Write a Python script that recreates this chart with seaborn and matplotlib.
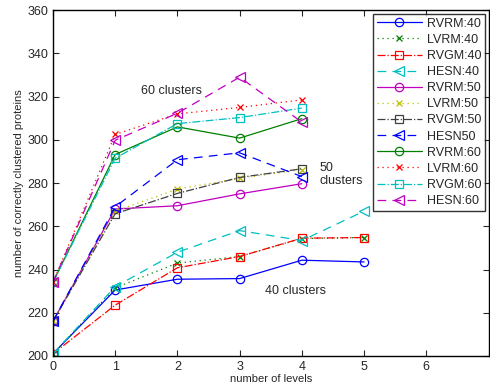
import pandas as pd
import matplotlib
matplotlib.use("Agg")
import matplotlib.pyplot as plt
import seaborn as sns

sns.set_style("ticks")
plt.rcParams['font.family'] = ['Liberation Sans', 'DejaVu Sans']

# Data
levels_40 = [0, 1, 2, 3, 4, 5]
levels_50 = [0, 1, 2, 3, 4]
levels_60 = [0, 1, 2, 3, 4]

rvrm_40 = [201, 230.5, 235.5, 235.8, 244.3, 243.5]
lvrm_40 = [201, 231.5, 243, 246, 254.3, 254.8]
rvgm_40 = [201, 223.5, 240.8, 246, 254.5, 254.8]
hesn_40 = [201, 232, 248, 258, 253.4, 267]

rvrm_50 = [216, 268, 269.5, 275, 279.7]
lvrm_50 = [216, 267, 277.2, 282.2, 286.2]
rvgm_50 = [216, 265.8, 275.2, 282.6, 286.6]
hesn_50 = [216, 269, 290.8, 294, 283]

rvrm_60 = [234, 293.2, 306, 300.8, 309.8]
lvrm_60 = [234, 302.5, 312, 315, 318.5]
rvgm_60 = [234, 291.5, 307.5, 310.3, 314.7]
hesn_60 = [234, 299.8, 312.3, 329, 308.2]

labels = ['RVRM:40', 'LVRM:40', 'RVGM:40', 'HESN:40',
          'RVRM:50', 'LVRM:50', 'RVGM:50', 'HESN50',
          'RVRM:60', 'LVRM:60', 'RVGM:60', 'HESN:60']

series = [
    (levels_40, rvrm_40), (levels_40, lvrm_40), (levels_40, rvgm_40), (levels_40, hesn_40),
    (levels_50, rvrm_50), (levels_50, lvrm_50), (levels_50, rvgm_50), (levels_50, hesn_50),
    (levels_60, rvrm_60), (levels_60, lvrm_60), (levels_60, rvgm_60), (levels_60, hesn_60),
]

# matlab style colours / line styles
blue, green, red, cyan = (0, 0, 1), (0, 0.5, 0), (1, 0, 0), (0, 0.75, 0.75)
magenta, yellow, grey = (0.75, 0, 0.75), (0.75, 0.75, 0), (0.25, 0.25, 0.25)
colors = [blue, green, red, cyan, magenta, yellow, grey, blue, green, red, cyan, magenta]
dashes = ['-', (0, (1, 3)), '-.', (0, (7, 5)), '-', (0, (1, 3)), '-.', (0, (7, 5)),
          '-', (0, (1, 3)), '-.', (0, (7, 5))]
markers = ['o', 'x', 's', '<'] * 3
msizes = {'o': 6, 'x': 5, 's': 5.5, '<': 6.5}

fig = plt.figure(figsize=(4.9, 3.92), dpi=100)
ax = fig.add_axes([0.108, 0.092, 0.889, 0.882])

for (x, y), lab, c, ls, m in zip(series, labels, colors, dashes, markers):
    df = pd.DataFrame({'level': x, 'value': y})
    sns.lineplot(data=df, x='level', y='value', ax=ax, color=c, label=lab,
                 marker=m, markersize=msizes[m], markerfacecolor='none',
                 markeredgecolor=c, markeredgewidth=0.9, linewidth=0.9)
    ax.lines[-1].set_linestyle(ls)

ax.set_xlim(0, 7)
ax.set_ylim(200, 360)
ax.set_xticks(range(0, 7))
ax.set_yticks(range(200, 361, 20))
ax.tick_params(direction='in', top=True, right=True, labelsize=9, length=4, width=0.8)
for sp in ax.spines.values():
    sp.set_linewidth(1.0)
    sp.set_color('black')

ax.set_xlabel('number of levels', fontsize=8, labelpad=1)
ax.set_ylabel('number of correctly clustered proteins', fontsize=8, labelpad=2)

ax.text(1.42, 322.4, '60 clusters', fontsize=9, va='center')
ax.text(4.29, 283.8, '50\nclusters', fontsize=9, va='center', linespacing=1.1)
ax.text(3.41, 230.2, '40 clusters', fontsize=9, va='center')

leg = ax.legend(loc='upper right', fontsize=9, frameon=True, fancybox=False,
                edgecolor='black', borderpad=0.3, labelspacing=0.33,
                handlelength=3.6, handletextpad=0.4, borderaxespad=0.3)
leg.get_frame().set_linewidth(1.0)

fig.savefig('out.png', dpi=100)
